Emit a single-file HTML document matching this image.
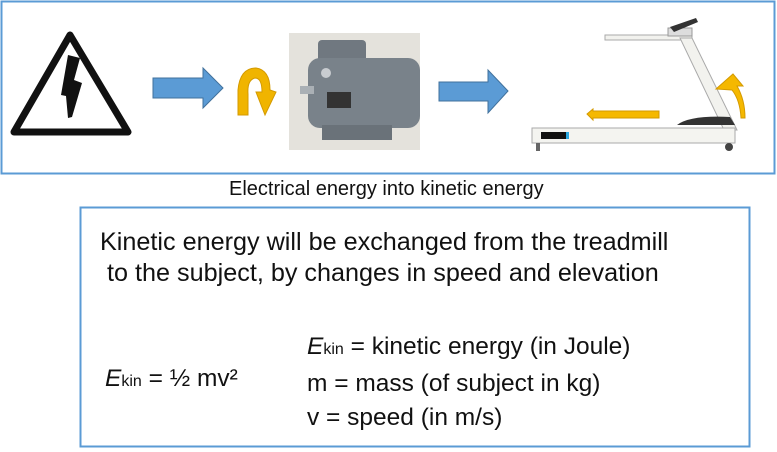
<!DOCTYPE html>
<html><head><style>
body{margin:0;width:777px;height:452px;background:#fff;overflow:hidden;font-family:"Liberation Sans",Arial,sans-serif;}
.t{position:absolute;white-space:nowrap;color:#111;}
</style></head><body>
<svg width="777" height="452" style="position:absolute;left:0;top:0">
<rect x="1.5" y="1.5" width="773" height="172" fill="#fff" stroke="#5b9bd5" stroke-width="2"/>
<rect x="80.5" y="207.5" width="669" height="239" fill="#fff" stroke="#5b9bd5" stroke-width="2"/>
<path d="M70 35 L128 132 L14 132 Z" fill="#fff" stroke="#111" stroke-width="7" stroke-linejoin="round"/>
<path d="M68 55 L80 58 L74 80 L82 83 L72 117 L68 118 L66 96 L61 95 Z" fill="#111"/>
<path d="M153 78 L203 78 L203 68 L223 88 L203 108 L203 98 L153 98 Z" fill="#5b9bd5" stroke="#41719c"/>
<path d="M439 82 L488 82 L488 70 L508 91 L488 113 L488 101 L439 101 Z" fill="#5b9bd5" stroke="#41719c"/>
<path d="M238 115 L238 90 Q240 68 256 68 Q270 70 270 90 L276 92 L265 115 L256 92 L262 92 Q262 78 255 78 Q247 80 248 94 L248 115 Z" fill="#f0b400" stroke="#d49a00"/>
<rect x="289" y="33" width="131" height="117" fill="#e4e2dc"/>
<rect x="318" y="40" width="48" height="35" rx="4" fill="#707880"/>
<rect x="308" y="58" width="112" height="70" rx="12" fill="#79828a"/>
<rect x="300" y="86" width="14" height="8" fill="#aab0b5"/>
<rect x="322" y="125" width="70" height="15" fill="#6a7279"/>
<rect x="327" y="92" width="24" height="16" fill="#333"/>
<circle cx="326" cy="73" r="5" fill="#c8ccd0"/>
<path d="M605 35 L692 35 L692 40 L605 40 Z" fill="#f2f2ee" stroke="#aaa"/>
<path d="M668 28 L692 28 L692 36 L668 36 Z" fill="#ddd" stroke="#999"/>
<path d="M670 27 L696 18 L698 22 L674 32 Z" fill="#333"/>
<path d="M680 38 L692 38 L737 130 L724 130 Z" fill="#f2f2ee" stroke="#aaa"/>
<path d="M677 125 Q690 115 730 117 L735 125 Z" fill="#333"/>
<rect x="532" y="128" width="203" height="15" fill="#f4f4f0" stroke="#aaa"/>
<rect x="541" y="132" width="25" height="7" fill="#111"/>
<rect x="566" y="132" width="3" height="7" fill="#2aa8e0"/>
<rect x="536" y="143" width="4" height="8" fill="#666"/>
<circle cx="729" cy="147" r="4" fill="#444"/>
<path d="M587 114 L593 109 L593 111 L659 111 L659 118 L593 118 L593 120 Z" fill="#f5b800" stroke="#d49a00"/>
<path d="M716 89 L733 74 L743 86 L737 86 Q745 100 745 118 L741 118 Q740 100 732 90 Z" fill="#f5b800" stroke="#d49a00"/>
</svg>
<div class="t" style="left:229px;top:178px;font-size:20px;">Electrical energy into kinetic energy</div>
<div class="t" style="left:100px;top:227px;font-size:25.2px;line-height:31px;">Kinetic energy will be exchanged from the treadmill<br>&nbsp;to the subject, by changes in speed and elevation</div>
<div class="t" style="left:105px;top:365px;font-size:24.5px;"><i>E</i><span style="font-size:16px">kin</span> = ½ mv²</div>
<div class="t" style="left:307px;top:330px;font-size:24.5px;line-height:34px;"><i>E</i><span style="font-size:16px">kin</span> = kinetic energy (in Joule)<br>m = mass (of subject in kg)<br>v = speed (in m/s)</div>
</body></html>
